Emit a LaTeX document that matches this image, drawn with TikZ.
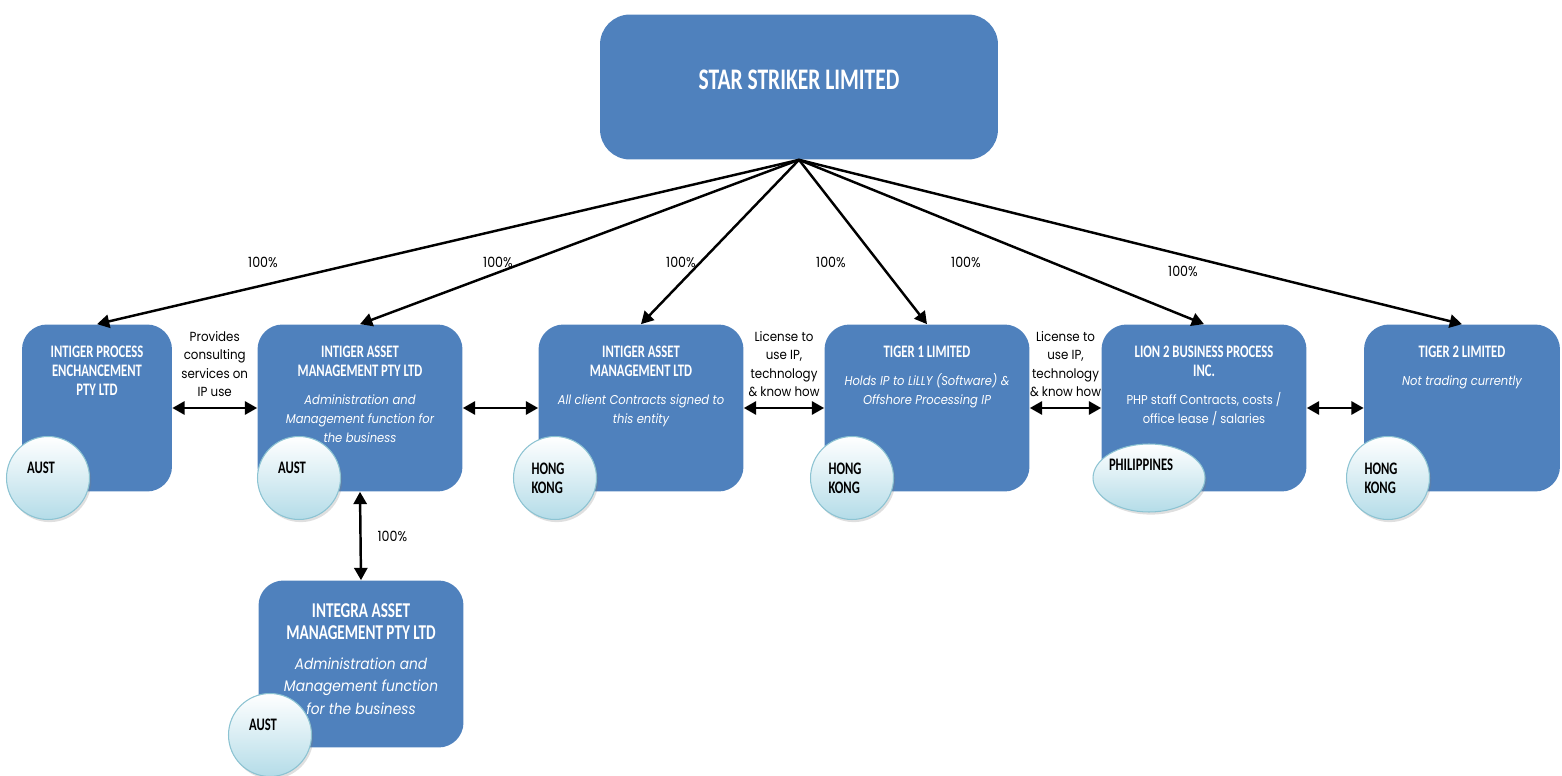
\documentclass[tikz,border=0pt]{standalone}
\usepackage{fontspec}
\setmainfont[FakeStretch=0.9]{Poppins}
\newfontfamily\titlefont[FakeStretch=0.72]{Carlito}
\usetikzlibrary{arrows.meta,positioning,shapes.geometric,shadows}
\definecolor{boxblue}{HTML}{4F81BD}
\definecolor{ballcol}{HTML}{B4DCE8}
\definecolor{ringcol}{HTML}{8CC3D2}
\newcommand{\tf}{\titlefont\bfseries\fontsize{10}{10.8}\selectfont}
\tikzset{
    box/.style={fill=boxblue, rounded corners=0.5cm, minimum width=4.1cm, minimum height=3.34cm, inner sep=0pt},
    boxtext/.style={text=white, align=center, anchor=north, inner sep=0pt,
        font=\fontsize{7.3}{10.8}\selectfont},
    place/.style={circle, draw=ringcol, line width=0.6pt, top color=white, bottom color=ballcol,
        minimum size=1.66cm, inner sep=0pt,
        drop shadow={opacity=0.25, shadow xshift=1pt, shadow yshift=-1.5pt}},
    ctext/.style={font=\titlefont\bfseries\fontsize{10}{11}\selectfont, align=left, text=black},
    arr/.style={-{Triangle[length=7pt,width=7.5pt]}, line width=1.4pt},
    dbl/.style={{Triangle[length=7pt,width=7.5pt]}-{Triangle[length=7pt,width=7.5pt]}, line width=1.4pt},
    pct/.style={font=\fontsize{8}{9}\selectfont},
    note/.style={font=\fontsize{7.5}{10.5}\selectfont, align=center, inner sep=0pt}
}
\begin{document}
\begin{tikzpicture}[
        x=0.02cm, y=-0.02cm, % 以像素为单位
    ]
    \useasboundingbox (0,0) rectangle (1562,776);
    % 公司方框
    \node[box, minimum width=7.96cm, minimum height=2.9cm, rounded corners=0.6cm] (star) at (799,87) {};
    \node[box, minimum width=3cm] (ipe) at (97,408) {};
    \node[box] (iamp) at (360,408) {};
    \node[box] (iaml) at (641,408) {};
    \node[box] (tiger1) at (927,408) {};
    \node[box] (lion) at (1204,408) {};
    \node[box, minimum width=3.92cm] (tiger2) at (1462,408) {};
    \node[box] (integra) at (361,664) {};

    % 方框里的文字
    \node[boxtext, anchor=center, font=\titlefont\bfseries\fontsize{17}{19}\selectfont] (startxt) at (799,80) {STAR STRIKER LIMITED};
    \node[boxtext] (ipetxt) at (97,346) {\tf INTIGER PROCESS\\\tf ENCHANCEMENT\\\tf PTY LTD};
    \node[boxtext] (iamptxt) at (360,346) {\tf INTIGER ASSET\\\tf MANAGEMENT PTY LTD\\[5pt]
        \itshape Administration and\\\itshape Management function for\\\itshape the business};
    \node[boxtext] (iamltxt) at (641,346) {\tf INTIGER ASSET\\\tf MANAGEMENT LTD\\[5pt]
        \itshape All client Contracts signed to\\\itshape this entity};
    \node[boxtext] (tiger1txt) at (927,346) {\tf TIGER 1 LIMITED\\[5pt]
        \itshape Holds IP to LiLLY (Software) \&\\\itshape Offshore Processing IP};
    \node[boxtext] (liontxt) at (1204,346) {\tf LION 2 BUSINESS PROCESS\\\tf INC.\\[5pt]
        PHP staff Contracts, costs /\\office lease / salaries};
    \node[boxtext] (tiger2txt) at (1462,346) {\tf TIGER 2 LIMITED\\[5pt]
        \itshape Not trading currently};
    \node[boxtext, font=\fontsize{8.7}{12.8}\selectfont] (integratxt) at (361,603) {\tf\fontsize{12}{12.8}\selectfont INTEGRA ASSET\\\tf\fontsize{12}{12.8}\selectfont MANAGEMENT PTY LTD\\[4pt]
        \itshape Administration and\\\itshape Management function\\\itshape for the business};

    % 持股箭头
    \draw[arr] (star.south) -- (ipe.north);
    \draw[arr] (star.south) -- (iamp.north);
    \draw[arr] (star.south) -- (iaml.north);
    \draw[arr] (star.south) -- (tiger1.north);
    \draw[arr] (star.south) -- (lion.north);
    \draw[arr] (star.south) -- (tiger2.north);
    \node[pct] (p1) at (263,262) {100\%};
    \node[pct] (p2) at (498,262) {100\%};
    \node[pct] (p3) at (681,262) {100\%};
    \node[pct] (p4) at (831,262) {100\%};
    \node[pct] (p5) at (966,262) {100\%};
    \node[pct] (p6) at (1183,271) {100\%};
    \draw[dbl] (iamp.south) -- node[pct, right=0.2cm] {100\%} (integra.north);

    % 横向双箭头
    \draw[dbl] (ipe.east) -- node[note, above=0.2cm] {Provides\\consulting\\services on\\IP use} (iamp.west);
    \draw[dbl] (iamp.east) -- (iaml.west);
    \draw[dbl] (iaml.east) -- node[note, above=0.2cm] {License to\\use IP,\\technology\\\& know how} (tiger1.west);
    \draw[dbl] (tiger1.east) -- node[note, above=0.2cm] {License to\\use IP,\\technology\\\& know how} (lion.west);
    \draw[dbl] (lion.east) -- (tiger2.west);

    % 所在地
    \node[place, label={[ctext, xshift=-0.14cm, yshift=0.2cm]center:AUST}] (c1) at (48,478) {};
    \node[place, label={[ctext, xshift=-0.14cm, yshift=0.2cm]center:AUST}] (c2) at (299,478) {};
    \node[place, label={[ctext, xshift=-0.14cm]center:HONG\\KONG}] (c3) at (555,478) {};
    \node[place, label={[ctext, xshift=-0.14cm]center:HONG\\KONG}] (c4) at (852,478) {};
    \node[place, ellipse, minimum width=2.24cm, minimum height=1.36cm,
        label={[ctext, xshift=-0.16cm, yshift=0.26cm]center:PHILIPPINES}] (c5) at (1149,478) {};
    \node[place, label={[ctext, xshift=-0.14cm]center:HONG\\KONG}] (c6) at (1388,478) {};
    \node[place, label={[ctext, xshift=-0.14cm, yshift=0.2cm]center:AUST}] (c7) at (270,735) {};
\end{tikzpicture}
\end{document}
